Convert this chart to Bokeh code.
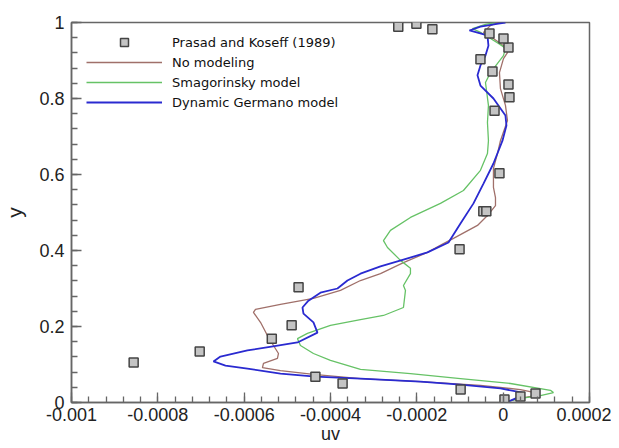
from bokeh.plotting import figure
from bokeh.models import Range1d, FixedTicker, Legend, LegendItem
from bokeh.embed import file_html
from bokeh.resources import INLINE

# Experimental data: Prasad and Koseff (1989)
exp_uv = [-0.000856, -0.000703, -0.000536, -0.000490, -0.000474, -0.000435, -0.000372,
          -0.000101, -0.000046, -0.000039, -0.0000086, -0.000020, 0.0000146, 0.0000123,
          -0.0000248, -0.0000526, 0.0000123, 0.0000007, -0.0000317, -0.000164, -0.000201,
          -0.000243, -0.0000985, 0.000003, 0.000040, 0.000075]
exp_y = [0.105, 0.134, 0.168, 0.203, 0.303, 0.068, 0.050,
         0.403, 0.503, 0.503, 0.603, 0.768, 0.803, 0.837,
         0.871, 0.903, 0.934, 0.958, 0.971, 0.982, 0.997,
         0.989, 0.034, 0.008, 0.016, 0.024]

# No modeling
nomod_uv = [0.0, 0.0000285, 0.0000632, 0.0000818, 0.0000401, -0.0000526, -0.0001916, -0.0003306,
            -0.0004395, -0.0005159, -0.0005576, -0.0005553, -0.0005229, -0.0005205, -0.0005321,
            -0.0005437, -0.0005622, -0.0005785, -0.0005738, -0.0005159, -0.0004395, -0.0003769,
            -0.0003306, -0.0002842, -0.000231, -0.0001754, -0.0001383, -0.0001151, -0.0000595,
            -0.0000364, -0.0000178, -0.0000178, -0.0000225, -0.0000225, -0.0000132, -0.0000063,
            0.00001, 0.0000053, -0.0000063, -0.0000086, 0.0000007, 0.00001, 0.0000007,
            -0.0000225, -0.0000456, -0.0000294, -0.0000132]
nomod_y = [0.0, 0.008, 0.016, 0.024, 0.034, 0.045, 0.055, 0.063,
           0.074, 0.084, 0.092, 0.103, 0.116, 0.129, 0.150,
           0.171, 0.211, 0.237, 0.245, 0.258, 0.274, 0.295,
           0.321, 0.339, 0.368, 0.395, 0.418, 0.432, 0.466,
           0.492, 0.518, 0.539, 0.566, 0.616, 0.655, 0.689,
           0.742, 0.782, 0.826, 0.868, 0.905, 0.921, 0.939,
           0.958, 0.974, 0.992, 1.0]

# Smagorinsky model
smag_uv = [0.0, 0.0000401, 0.0000864, 0.0001165, 0.0001096, 0.0000169, -0.0000989, -0.0002148,
           -0.0003306, -0.0004001, -0.0004395, -0.0004696, -0.0004765, -0.0004534, -0.0004001,
           -0.0003306, -0.0002773, -0.000231, -0.0002263, -0.000231, -0.0002148, -0.0002148,
           -0.0002379, -0.000268, -0.0002773, -0.0002611, -0.0002148, -0.0001453, -0.000092,
           -0.0000526, -0.0000364, -0.0000341, -0.0000364, -0.0000341, -0.000041, -0.0000294,
           0.0000007, 0.0000053, -0.0000109, -0.0000294, -0.0000526, -0.0000711, -0.000041,
           -0.0000178]
smag_y = [0.0, 0.011, 0.018, 0.026, 0.032, 0.050, 0.063, 0.076,
          0.087, 0.111, 0.129, 0.150, 0.168, 0.182, 0.203,
          0.218, 0.229, 0.250, 0.295, 0.308, 0.339, 0.353,
          0.374, 0.408, 0.426, 0.453, 0.487, 0.524, 0.558,
          0.611, 0.655, 0.689, 0.737, 0.782, 0.842, 0.868,
          0.913, 0.932, 0.945, 0.958, 0.974, 0.984, 0.995,
          1.0]

# Dynamic Germano model
dyn_uv = [0.0, 0.0000169, 0.0000401, 0.0000447, -0.0000063, -0.0000989, -0.0001916, -0.0003306,
          -0.0004348, -0.0005159, -0.0005924, -0.0006433, -0.0006711, -0.0006549, -0.0005924,
          -0.0005368, -0.0004765, -0.0004302, -0.0004395, -0.0004626, -0.0004649, -0.0004511,
          -0.0004233, -0.0003839, -0.0003607, -0.0003306, -0.0002842, -0.000231, -0.0001754,
          -0.0001267, -0.0000989, -0.0000688, -0.0000456, -0.0000225, -0.0000016, 0.0000076,
          0.0000053, -0.0000225, -0.0000526, -0.0000595, -0.0000526, -0.000041, -0.0000341,
          -0.0000364, -0.0000781, -0.0000526, -0.0000109, 0.0000053]
dyn_y = [0.0, 0.005, 0.016, 0.026, 0.037, 0.047, 0.055, 0.063,
         0.068, 0.076, 0.089, 0.097, 0.108, 0.121, 0.137,
         0.147, 0.158, 0.184, 0.211, 0.234, 0.250, 0.268,
         0.289, 0.300, 0.321, 0.339, 0.358, 0.376, 0.395,
         0.421, 0.471, 0.524, 0.576, 0.629, 0.689, 0.729,
         0.755, 0.800, 0.834, 0.861, 0.887, 0.913, 0.939,
         0.966, 0.979, 0.989, 0.997, 1.0]

x_ticks = [-0.001, -0.0008, -0.0006, -0.0004, -0.0002, 0.0, 0.0002]
x_tick_labels = ["-0.001", "-0.0008", "-0.0006", "-0.0004", "-0.0002", "0", "0.0002"]
y_ticks = [0.0, 0.2, 0.4, 0.6, 0.8, 1.0]
y_tick_labels = ["0", "0.2", "0.4", "0.6", "0.8", "1"]

x_minor = [round(-0.001 + i * 0.00004, 6) for i in range(31)]
y_minor = [round(i * 0.04, 2) for i in range(26)]

p = figure(frame_width=518, frame_height=380,
           x_range=Range1d(-0.001, 0.0002), y_range=Range1d(0, 1),
           output_backend="svg", toolbar_location=None,
           min_border_left=71, min_border_top=22, min_border_right=22, min_border_bottom=2,
           x_axis_label="uv", y_axis_label="y")

p.xgrid.visible = False
p.ygrid.visible = False
p.outline_line_color = "#666666"
p.outline_line_width = 1.5
p.background_fill_color = "white"
p.border_fill_color = "white"

for ax in (p.xaxis[0], p.yaxis[0]):
    ax.axis_line_color = "#666666"
    ax.axis_line_width = 1.5
    ax.major_tick_line_color = "#666666"
    ax.minor_tick_line_color = "#666666"
    ax.major_tick_line_width = 1.3
    ax.minor_tick_line_width = 1.3
    ax.major_tick_in = 10
    ax.major_tick_out = 0
    ax.minor_tick_in = 6
    ax.minor_tick_out = 0
    ax.major_label_text_font = "Liberation Sans"
    ax.major_label_text_font_size = "18px"
    ax.major_label_text_color = "#222222"
    ax.axis_label_text_font = "Liberation Sans"
    ax.axis_label_text_font_style = "normal"
    ax.axis_label_text_color = "#222222"

p.xaxis.axis_label_text_font_size = "18px"
p.yaxis.axis_label_text_font_size = "21px"
p.xaxis.ticker = FixedTicker(ticks=x_ticks, minor_ticks=x_minor)
p.yaxis.ticker = FixedTicker(ticks=y_ticks, minor_ticks=y_minor)
p.xaxis.major_label_overrides = {t: l for t, l in zip(x_ticks, x_tick_labels)}
p.yaxis.major_label_overrides = {t: l for t, l in zip(y_ticks, y_tick_labels)}
p.xaxis.major_label_standoff = 5
p.xaxis.axis_label_standoff = 0
p.yaxis.major_label_standoff = 7
p.yaxis.axis_label_standoff = 10

r_nomod = p.line(nomod_uv, nomod_y, line_color="#a0706a", line_width=1.3)
r_smag = p.line(smag_uv, smag_y, line_color="#66c266", line_width=1.3)
r_dyn = p.line(dyn_uv, dyn_y, line_color="#2a2ad0", line_width=1.8)
r_exp = p.scatter(exp_uv, exp_y, marker="square", size=9,
                  fill_color="#c4c4c4", line_color="#444444", line_width=1.5)

legend = Legend(items=[
    LegendItem(label="Prasad and Koseff (1989)", renderers=[r_exp]),
    LegendItem(label="No modeling", renderers=[r_nomod]),
    LegendItem(label="Smagorinsky model", renderers=[r_smag]),
    LegendItem(label="Dynamic Germano model", renderers=[r_dyn]),
], location=(6, 281), padding=9, spacing=0, glyph_width=76, glyph_height=20,
    label_height=20, label_standoff=10, label_text_font="DejaVu Sans",
    label_text_font_size="13px", label_text_color="#111111",
    border_line_alpha=0, background_fill_alpha=0)
p.add_layout(legend)

open("out.html", "w").write(file_html(p, INLINE))
